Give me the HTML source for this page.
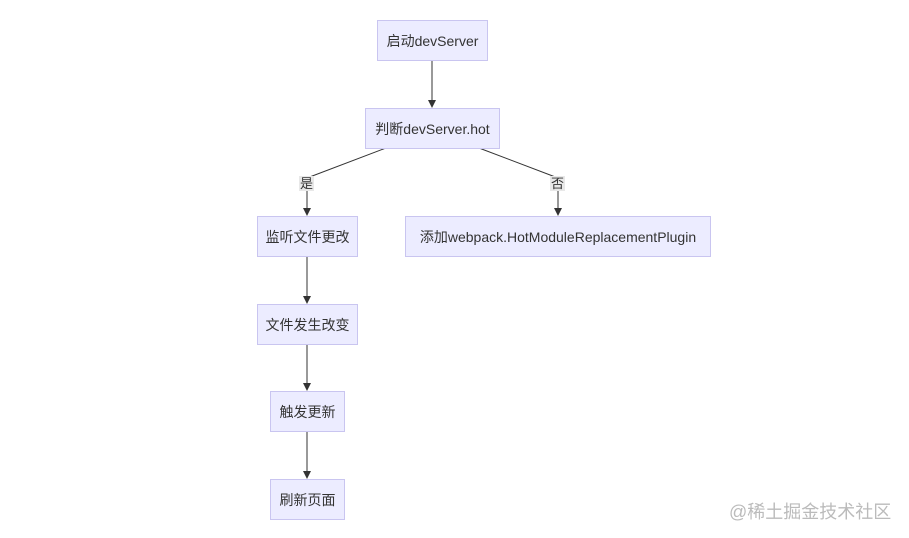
<!DOCTYPE html>
<html><head><meta charset="utf-8"><style>
body{margin:0;width:909px;height:538px;background:#fff;position:relative;overflow:hidden;font-family:"Liberation Sans","Noto Sans CJK SC",sans-serif}
.b{position:absolute;box-sizing:border-box;background:#ececff;border:1px solid #c9c5f0;font-size:14px;color:#333;display:flex;align-items:center;justify-content:center;white-space:nowrap}
.l{position:absolute;font-size:13px;color:#333;background:#e8e8e8;line-height:15px;padding:0 1px}
</style></head><body>
<svg width="909" height="538" style="position:absolute;left:0;top:0">
<defs><marker id="a" markerWidth="8" markerHeight="8" refX="7" refY="4" orient="auto" markerUnits="userSpaceOnUse"><path d="M0,0L8,4L0,8z" fill="#333"/></marker></defs>
<g stroke="#333" stroke-width="1" fill="none">
<line x1="432" y1="60" x2="432" y2="107" marker-end="url(#a)"/>
<polyline points="386,148 307,178 307,215" marker-end="url(#a)"/>
<polyline points="479,148 558,178 558,215" marker-end="url(#a)"/>
<line x1="307" y1="256" x2="307" y2="303" marker-end="url(#a)"/>
<line x1="307" y1="344" x2="307" y2="390" marker-end="url(#a)"/>
<line x1="307" y1="431" x2="307" y2="478" marker-end="url(#a)"/>
</g></svg>
<div class="b" style="left:377px;top:20px;width:111px;height:41px">启动devServer</div>
<div class="b" style="left:365px;top:108px;width:135px;height:41px">判断devServer.hot</div>
<div class="b" style="left:257px;top:216px;width:101px;height:41px">监听文件更改</div>
<div class="b" style="left:405px;top:216px;width:306px;height:41px">添加webpack.HotModuleReplacementPlugin</div>
<div class="b" style="left:257px;top:304px;width:101px;height:41px">文件发生改变</div>
<div class="b" style="left:270px;top:391px;width:75px;height:41px">触发更新</div>
<div class="b" style="left:270px;top:479px;width:75px;height:41px">刷新页面</div>
<div class="l" style="left:299px;top:176px">是</div>
<div class="l" style="left:550px;top:176px">否</div>
<div style="position:absolute;left:729px;top:498px;font-size:18px;color:#bbb">@稀土掘金技术社区</div>
</body></html>
